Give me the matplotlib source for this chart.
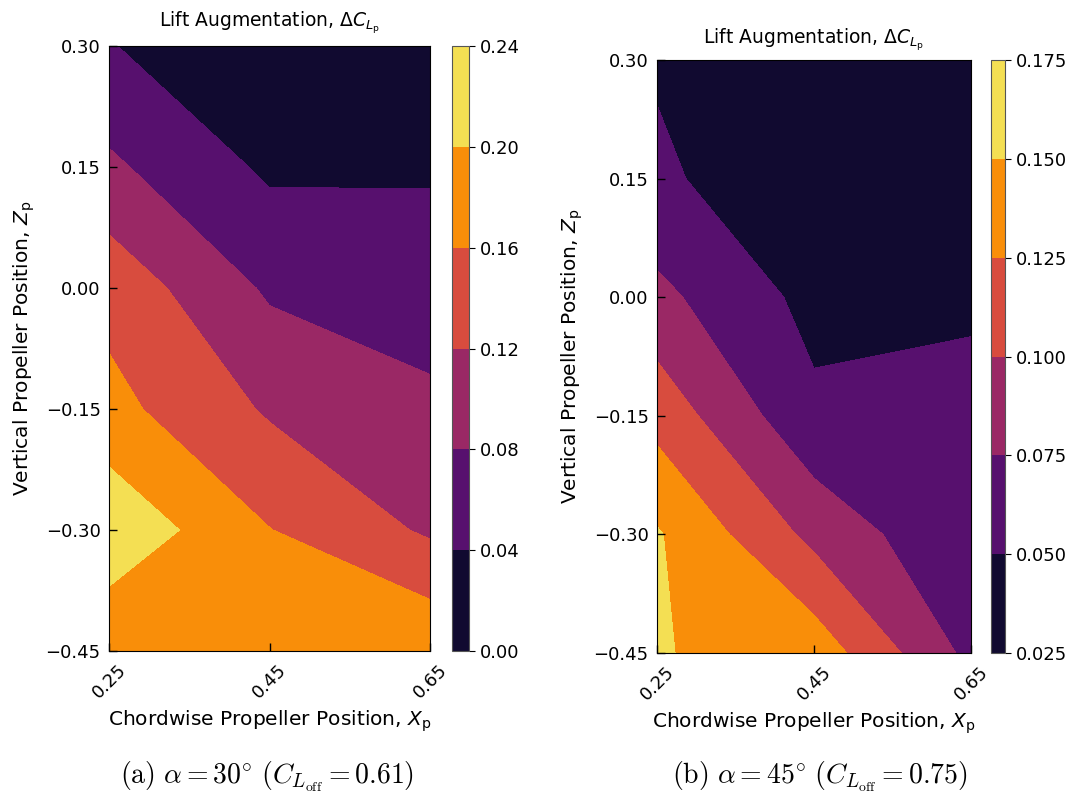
import numpy as np
import matplotlib
matplotlib.use("Agg")
import matplotlib.pyplot as plt

# propeller grid
x_pos = [0.25, 0.45, 0.65]
z_pos = [-0.45, -0.30, -0.15, 0.00, 0.15, 0.30]

# lift augmentation, rows follow z_pos (bottom to top), columns follow x_pos
dcl_alpha30 = [
    [0.165, 0.180, 0.194],
    [0.2305, 0.161, 0.114],
    [0.172, 0.115, 0.083],
    [0.146, 0.074, 0.0725],
    [0.087, 0.033, 0.033],
    [0.042, 0.005, 0.010],
]
dcl_alpha45 = [
    [0.1513, 0.140, 0.068],
    [0.1524, 0.093, 0.052],
    [0.116, 0.055, 0.058],
    [0.0814, 0.0425, 0.046],
    [0.0536, 0.034, 0.038],
    [0.0478, 0.035, 0.030],
]
levels_30 = [0.00, 0.04, 0.08, 0.12, 0.16, 0.20, 0.24]
levels_45 = [0.025, 0.050, 0.075, 0.100, 0.125, 0.150, 0.175]

captions = [r"$\mathrm{(a)}\ \alpha = 30^{\circ}\ (C_{L_{\mathrm{off}}} = 0.61)$",
            r"$\mathrm{(b)}\ \alpha = 45^{\circ}\ (C_{L_{\mathrm{off}}} = 0.75)$"]

W, H = 1075, 796
fig = plt.figure(figsize=(W / 100, H / 100), dpi=100)


def box(x0, y0, x1, y1):
    return [x0 / W, 1 - y1 / H, (x1 - x0) / W, (y1 - y0) / H]


def fmt(v, nd):
    return f"{v:.{nd}f}".replace("-", "\u2212")


panels = [
    (dcl_alpha30, levels_30, box(109, 46, 430, 651), box(452, 46, 469, 651), 2, 14, 267),
    (dcl_alpha45, levels_45, box(657, 60, 971, 653), box(991, 60, 1005, 653), 3, 12, 820),
]

X, Z = np.meshgrid(x_pos, z_pos)
for i, (vals, levels, ax_box, cb_box, nd, tpad, cap_x) in enumerate(panels):
    ax = fig.add_axes(ax_box)
    cs = ax.contourf(X, Z, np.array(vals), levels=levels, cmap="inferno")
    ax.set_xticks(x_pos)
    ax.set_xticklabels([fmt(v, 2) for v in x_pos], rotation=45, fontsize=13)
    ax.set_yticks(z_pos)
    ax.set_yticklabels([fmt(v, 2) for v in z_pos], fontsize=13)
    ax.tick_params(direction="in", length=6, width=1)
    ax.tick_params(axis="x", pad=7)
    ax.tick_params(axis="y", pad=6)
    ax.set_xlabel(r"Chordwise Propeller Position, $X_\mathrm{p}$", fontsize=14.5, labelpad=5)
    ax.set_ylabel(r"Vertical Propeller Position, $Z_\mathrm{p}$", fontsize=14.5, labelpad=6)
    ax.set_title(r"Lift Augmentation, $\Delta C_{L_\mathrm{p}}$", fontsize=13.5, pad=tpad)

    cax = fig.add_axes(cb_box)
    cb = fig.colorbar(cs, cax=cax)
    cb.set_ticks(levels)
    cb.set_ticklabels([fmt(v, nd) for v in levels])
    cb.ax.tick_params(labelsize=13, length=4)
    cb.outline.set_edgecolor("#555555")

    fig.text(cap_x / W, 1 - 777 / H, captions[i], ha="center", va="center",
             fontsize=20, math_fontfamily="cm")

fig.savefig("out.png", dpi=100)
